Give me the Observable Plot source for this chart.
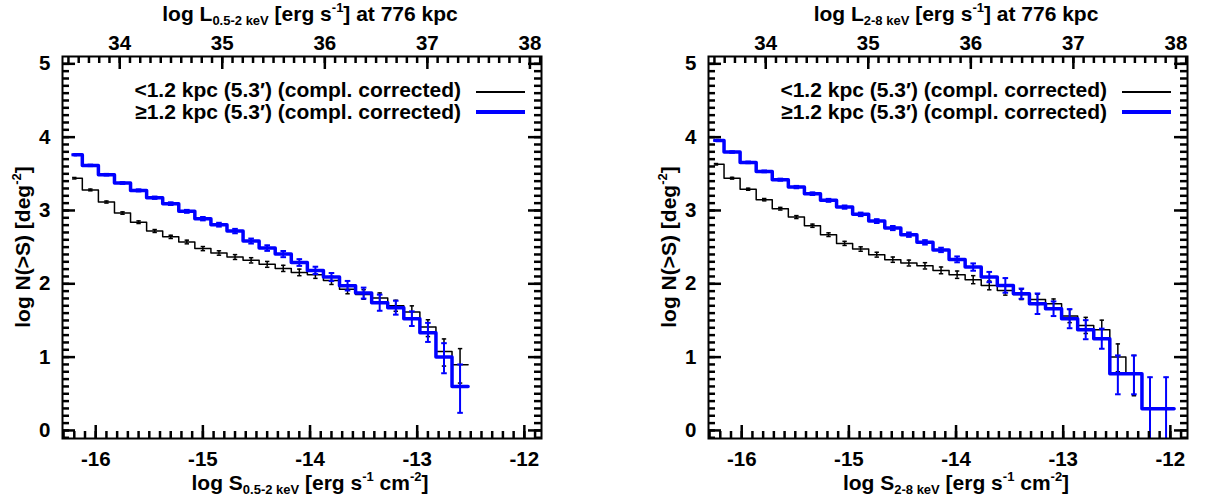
<!DOCTYPE html>
<html><head><meta charset="utf-8">
<script src="https://cdn.jsdelivr.net/npm/d3@7"></script>
<script src="https://cdn.jsdelivr.net/npm/@observablehq/plot@0.6"></script>
<style>
body{margin:0;background:#fff;}
#wrap{position:relative;width:1206px;height:496px;overflow:hidden;font-family:"Liberation Sans",Arial,sans-serif;font-weight:bold;color:#000;}
.panel{position:absolute;top:0;height:496px;}
.panel svg{position:absolute;left:0;top:0;}
.ov{position:absolute;white-space:nowrap;font-size:21px;line-height:1;}
.ov sub{font-size:13px;vertical-align:-4px;line-height:0;}
.ov sup{font-size:13px;vertical-align:9px;line-height:0;}
.leg{position:absolute;white-space:nowrap;font-size:21px;line-height:1;}
.legline{position:absolute;}
</style></head><body><div id="wrap"></div>
<script>
// ---------------- data ----------------
// 0.5-2 keV panel: bin centres (log S) and log N(>S)
const softCenters = [-16.20,-16.05,-15.90,-15.75,-15.60,-15.45,-15.30,-15.15,-15.00,-14.85,-14.70,-14.55,-14.40,-14.25,-14.10,-13.95,-13.80,-13.65,-13.50,-13.35,-13.20,-13.05,-12.90,-12.75,-12.60];
const softInner = [3.44,3.28,3.115,2.965,2.84,2.72,2.64,2.57,2.48,2.42,2.365,2.32,2.265,2.21,2.155,2.124,2.046,1.924,1.855,1.805,1.70,1.614,1.41,1.078,0.896];
const softInnerErrHi = [0.01,0.012,0.014,0.016,0.018,0.02,0.022,0.025,0.028,0.03,0.033,0.036,0.04,0.042,0.045,0.05,0.055,0.06,0.065,0.07,0.075,0.085,0.10,0.17,0.22];
const softInnerErrLo = [0.01,0.012,0.014,0.016,0.018,0.02,0.022,0.025,0.028,0.03,0.033,0.036,0.04,0.042,0.045,0.05,0.055,0.06,0.065,0.07,0.075,0.085,0.13,0.20,0.25];
const softOuter = [3.76,3.615,3.488,3.374,3.274,3.174,3.093,2.988,2.888,2.806,2.719,2.583,2.487,2.405,2.29,2.183,2.092,1.974,1.873,1.742,1.674,1.524,1.333,1.0,0.60];
const softOuterErrHi = [0.008,0.01,0.011,0.012,0.014,0.016,0.018,0.02,0.023,0.026,0.03,0.034,0.038,0.042,0.046,0.05,0.055,0.065,0.075,0.11,0.095,0.10,0.134,0.19,0.30];
const softOuterErrLo = [0.008,0.01,0.011,0.012,0.014,0.016,0.018,0.02,0.023,0.026,0.03,0.034,0.038,0.042,0.046,0.05,0.055,0.065,0.075,0.11,0.095,0.10,0.126,0.22,0.36];

// 2-8 keV panel
const hardCenters = [-16.24,-16.09,-15.94,-15.79,-15.64,-15.49,-15.34,-15.19,-15.04,-14.89,-14.74,-14.59,-14.44,-14.29,-14.14,-13.99,-13.84,-13.69,-13.54,-13.39,-13.24,-13.09,-12.94,-12.79,-12.64,-12.49,-12.34,-12.19,-12.04];
const hardInner = [3.63,3.44,3.29,3.147,3.024,2.91,2.792,2.67,2.551,2.474,2.397,2.329,2.283,2.245,2.183,2.124,2.056,1.978,1.91,1.855,1.787,1.728,1.56,1.432,1.374,1.0,0.773];
const hardInnerErrHi = [0.01,0.012,0.014,0.016,0.018,0.02,0.022,0.025,0.028,0.03,0.033,0.036,0.04,0.043,0.046,0.05,0.055,0.06,0.065,0.07,0.07,0.065,0.09,0.11,0.13,0.18,0.25];
const hardInnerErrLo = [0.01,0.012,0.014,0.016,0.018,0.02,0.022,0.025,0.028,0.03,0.033,0.036,0.04,0.043,0.046,0.05,0.055,0.06,0.065,0.07,0.07,0.065,0.09,0.11,0.13,0.20,0.30];
const hardOuter = [3.956,3.797,3.656,3.533,3.42,3.319,3.229,3.138,3.046,2.947,2.855,2.76,2.67,2.565,2.462,2.333,2.228,2.092,1.978,1.865,1.728,1.66,1.524,1.374,1.251,0.773,0.773,0.296,0.296];
const hardOuterErrHi = [0.008,0.01,0.011,0.012,0.014,0.016,0.018,0.02,0.022,0.024,0.026,0.028,0.03,0.03,0.03,0.04,0.05,0.07,0.10,0.07,0.14,0.10,0.13,0.13,0.137,0.25,0.25,0.43,0.43];
const hardOuterErrLo = [0.008,0.01,0.011,0.012,0.014,0.016,0.018,0.02,0.022,0.024,0.026,0.028,0.03,0.03,0.03,0.04,0.05,0.07,0.10,0.07,0.14,0.10,0.13,0.13,0.137,0.28,0.28,0.60,0.60];

const binWidth = 0.15;
const fluxTicks = [-16,-15,-14,-13,-12];
const countTicks = [0,1,2,3,4,5];
const lumTicks = [34,35,36,37,38];
// top (luminosity) axis: log L 34 sits at log S -15.776, log L 37 at -12.905
const lumAnchorL = [34, 37];
const lumAnchorS = [-15.776, -12.905];
const legendLabels = ["<1.2 kpc (5.3\u2032) (compl. corrected)", "\u22651.2 kpc (5.3\u2032) (compl. corrected)"];
const seriesColors = ["#000000", "#0000ff"];
const tickColor = "#000000";
const bands = ["0.5-2 keV", "2-8 keV"];

// ---------------- drawing ----------------
const H = 496, MT = 56, MB = 58, ML = 62;
const xDomain = [-16.31, -11.84];
const yDomain = [-0.11, 5.10];
const lumToFlux = d3.scaleLinear().domain(lumAnchorL).range(lumAnchorS);
const inDom = (v, d) => v > d[0] + 0.005 && v < d[1] - 0.005;
const fluxMinor = d3.range(-163, -118).map(d => d / 10).filter(v => inDom(v, xDomain));
const countMinor = d3.range(-1, 52).map(d => d / 10).filter(v => inDom(v, yDomain));
const lumMajorS = lumTicks.map(l => lumToFlux(l)).filter(v => inDom(v, xDomain));
const lumMinor = d3.range(334, 382).map(d => d / 10).map(l => lumToFlux(l)).filter(v => inDom(v, xDomain));

function stepPoints(centers, values) {
  const pts = values.map((v, i) => ({x: i === 0 ? centers[i] : centers[i] - binWidth / 2, y: v}));
  const n = values.length - 1;
  pts.push({x: centers[n] + binWidth / 2, y: values[n]});
  return pts;
}
function errPoints(centers, values, hi, lo) {
  return values.map((v, i) => ({x: centers[i], y: v, hi: v + hi[i], lo: v - lo[i]}));
}
const capSymbol = {draw(ctx, size) { const r = Math.sqrt(size / Math.PI); ctx.moveTo(-r, 0); ctx.lineTo(r, 0); }};

function seriesMarks(centers, values, hi, lo, color, lw, ew, cap) {
  const e = errPoints(centers, values, hi, lo);
  return [
    Plot.line(stepPoints(centers, values), {x: "x", y: "y", curve: "step-after", stroke: color, strokeWidth: lw, clip: true}),
    Plot.ruleX(e, {x: "x", y1: "lo", y2: "hi", stroke: color, strokeWidth: ew, clip: true}),
    Plot.dot(e, {x: "x", y: "hi", symbol: capSymbol, r: cap, fill: "none", stroke: color, strokeWidth: ew, clip: true}),
    Plot.dot(e, {x: "x", y: "lo", symbol: capSymbol, r: cap, fill: "none", stroke: color, strokeWidth: ew, clip: true})
  ];
}

// inward ticks on all four sides; lengths given in pixels and converted through the domain/frame size
function tickMarks(innerW, innerH) {
  const pxX = (xDomain[1] - xDomain[0]) / innerW;
  const pxY = (yDomain[1] - yDomain[0]) / innerH;
  const tx = (vals, len, sw, side) => {
    const base = side === "bottom" ? yDomain[0] : yDomain[1];
    const tip = side === "bottom" ? base + len * pxY : base - len * pxY;
    return Plot.ruleX(vals.map(v => ({v, a: base, b: tip})), {x: "v", y1: "a", y2: "b", stroke: tickColor, strokeWidth: sw});
  };
  const ty = (vals, len, sw, side) => {
    const base = side === "left" ? xDomain[0] : xDomain[1];
    const tip = side === "left" ? base + len * pxX : base - len * pxX;
    return Plot.ruleY(vals.map(v => ({v, a: base, b: tip})), {y: "v", x1: "a", x2: "b", stroke: tickColor, strokeWidth: sw});
  };
  return [
    tx(fluxTicks, 13, 2.5, "bottom"), tx(fluxMinor, 7, 2.5, "bottom"),
    tx(lumMajorS, 13, 2.5, "top"), tx(lumMinor, 7, 2.5, "top"),
    ty(countTicks, 13, 2.5, "left"), ty(countMinor, 7, 2.5, "left"),
    ty(countTicks, 13, 2.5, "right"), ty(countMinor, 7, 2.5, "right")
  ];
}

function makePlot(cfg) {
  const innerW = cfg.width - ML - cfg.marginRight, innerH = H - MT - MB;
  return Plot.plot({
    width: cfg.width, height: H,
    marginLeft: ML, marginRight: cfg.marginRight, marginTop: MT, marginBottom: MB,
    x: {domain: xDomain},
    y: {domain: yDomain},
    style: {fontFamily: "'Liberation Sans', Arial, sans-serif", fontWeight: "bold", fontSize: "20.5px", color: "#000", background: "transparent", overflow: "visible"},
    marks: [
      ...seriesMarks(cfg.centers, cfg.inner, cfg.innerHi, cfg.innerLo, seriesColors[0], 1.5, 1.5, 2.2),
      ...seriesMarks(cfg.centers2, cfg.outer, cfg.outerHi, cfg.outerLo, seriesColors[1], 3.5, 2, 2.8),
      Plot.axisX({anchor: "bottom", ticks: fluxTicks, tickSize: 0, tickPadding: 12.5, tickFormat: d => String(d), label: null, fontSize: 20.5}),
      Plot.axisX({anchor: "top", ticks: lumMajorS, tickSize: 0, tickPadding: 7, tickFormat: s => String(Math.round(lumToFlux.invert(s))), label: null, fontSize: 20.5}),
      Plot.axisY({anchor: "left", ticks: countTicks, tickSize: 0, tickPadding: 12, tickFormat: d => String(d), label: null, fontSize: 20.5}),
      Plot.frame({stroke: "#000", strokeWidth: 2}),
      ...tickMarks(innerW, innerH)
    ]
  });
}

const panels = [
  {left: 0, width: 646, marginRight: 105, band: bands[0], centers: softCenters, centers2: softCenters,
   inner: softInner, innerHi: softInnerErrHi, innerLo: softInnerErrLo, outer: softOuter, outerHi: softOuterErrHi, outerLo: softOuterErrLo},
  {left: 646, width: 560, marginRight: 19, band: bands[1], centers: hardCenters.slice(0, hardInner.length), centers2: hardCenters,
   inner: hardInner, innerHi: hardInnerErrHi, innerLo: hardInnerErrLo, outer: hardOuter, outerHi: hardOuterErrHi, outerLo: hardOuterErrLo}
];

const wrap = document.getElementById("wrap");
for (const p of panels) {
  const div = document.createElement("div");
  div.className = "panel";
  div.style.left = p.left + "px";
  div.style.width = p.width + "px";
  div.appendChild(makePlot(p));
  const html = (s, style) => { const e = document.createElement("div"); e.className = "ov"; e.innerHTML = s; Object.assign(e.style, style); div.appendChild(e); return e; };
  html(`log L<sub>${p.band}</sub> [erg s<sup>-1</sup>] at 776 kpc`, {left: "310px", top: "13px", transform: "translate(-50%,-50%)"});
  html(`log S<sub>${p.band}</sub> [erg s<sup>-1</sup> cm<sup>-2</sup>]`, {left: "310px", top: "482px", transform: "translate(-50%,-50%)"});
  html(`log N(&gt;S) [deg<sup>-2</sup>]`, {left: "22px", top: "247px", transform: "translate(-50%,-50%) rotate(-90deg)"});
  legendLabels.forEach((lab, i) => {
    const t = document.createElement("div");
    t.className = "leg";
    t.textContent = lab;
    Object.assign(t.style, {right: (p.width - 461) + "px", top: (89 + 21.5 * i) + "px", transform: "translateY(-50%)"});
    div.appendChild(t);
    const l = document.createElement("div");
    l.className = "legline";
    const lw = i === 0 ? 1.5 : 3.5;
    Object.assign(l.style, {left: "476px", width: "49px", top: (92 + 20 * i - lw / 2) + "px", height: lw + "px", background: seriesColors[i]});
    div.appendChild(l);
  });
  wrap.appendChild(div);
}
</script></body></html>
